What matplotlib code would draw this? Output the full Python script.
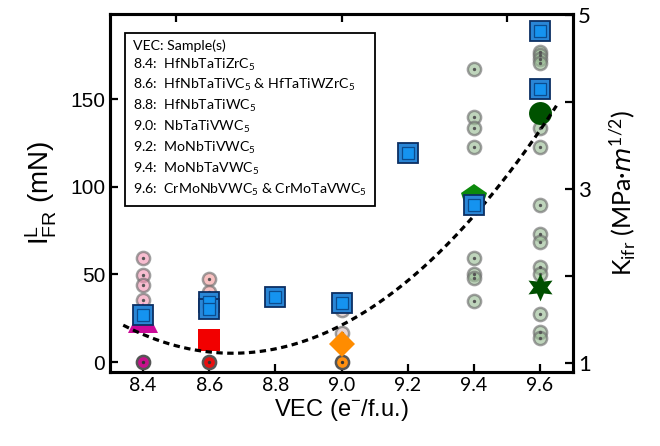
import numpy as np
import matplotlib
matplotlib.use("Agg")
import matplotlib.pyplot as plt

# ---------------- data ----------------
# individual indentation loads (mN), small circles
x84, ind_84 = 8.4, [59.5, 49.6, 43.9, 35.4]
x86, ind_86 = 8.6, [47.3, 40.0]
x90, ind_90 = 9.0, [29.7, 16.7]
x94, ind_94 = 9.4, [167.0, 140.0, 133.7, 122.8, 59.5, 50.0, 48.0, 35.0]
x96, ind_96 = 9.6, [177.0, 175.0, 173.0, 170.6, 133.7, 122.8, 89.6, 72.8,
                    68.6, 54.0, 50.0, 27.4, 17.3, 13.5]
zero_vec = [8.4, 8.6, 9.0]
zero_val = [0.0, 0.0, 0.0]
zero_cols = ['#c8108c', '#e81010', '#ff9010']

# average markers
avg_vec = [8.4, 8.6, 9.0, 9.4, 9.6, 9.6]
avg_val = [25.0, 12.4, 10.3, 94.0, 142.0, 43.0]
avg_mark = ['^', 's', 'D', 'p', 'o', (6, 1, 0)]
avg_col = ['#cc0a99', '#f20000', '#ff8c00', '#0c8a0c', '#005200', '#004f00']
avg_size = [21, 16.5, 13, 19, 16.5, 20]

# fracture toughness K_ifr (MPa m^1/2), blue squares
k_vec = [8.4, 8.6, 8.6, 8.8, 9.0, 9.2, 9.4, 9.6, 9.6]
k_val = [1.55, 1.70, 1.62, 1.76, 1.69, 3.41, 2.82, 4.82, 4.15]

# quadratic trend line: a*(x-x0)^2 + c
fit_a, fit_x0, fit_c = 147.0, 8.67, 5.0
fit_range = (8.34, 9.65)

xticks = [8.4, 8.6, 8.8, 9.0, 9.2, 9.4, 9.6]
yticks = [0, 50, 100, 150]
k_ticks = [1, 2, 3, 4, 5]
k_labels = ['1', '', '3', '', '5']

legend_lines = [
    "VEC: Sample(s)",
    "8.4:  HfNbTaTiZrC$_5$",
    "8.6:  HfNbTaTiVC$_5$ & HfTaTiWZrC$_5$",
    "8.8:  HfNbTaTiWC$_5$",
    "9.0:  NbTaTiVWC$_5$",
    "9.2:  MoNbTiVWC$_5$",
    "9.4:  MoNbTaVWC$_5$",
    "9.6:  CrMoNbVWC$_5$ & CrMoTaVWC$_5$",
]

# ---------------- figure ----------------
plt.rcParams['mathtext.default'] = 'regular'
fig = plt.figure(figsize=(6.6, 4.46), dpi=100)
ax = fig.add_axes([110/660, 1-372/446, (573-110)/660, (372-14)/446])

def circles(x, vals, face):
    xs = [x]*len(vals)
    ax.plot(xs, vals, 'o', ms=9.5, mfc=face, mec='#6e6e6e', mew=1.8,
            alpha=0.65, ls='none', zorder=2)
    ax.plot(xs, vals, 'o', ms=1.4, color='#555555', ls='none', zorder=2.1)

circles(x84, ind_84, '#f49ab8')
circles(x86, ind_86, '#f5a0a0')
circles(x90, ind_90, '#d8c0c0')
circles(x94, ind_94, '#9dbf98')
circles(x96, ind_96, '#9dbf98')

for xv, yv, c in zip(zero_vec, zero_val, zero_cols):
    ax.plot([xv], [yv], 'o', ms=9.5, mfc=c, mec='#555555', mew=1.8, zorder=2)
    ax.plot([xv], [yv], 'o', ms=1.4, color='#333333', zorder=2.1)

for xv, yv, m, c, s in zip(avg_vec, avg_val, avg_mark, avg_col, avg_size):
    ax.plot([xv], [yv], marker=m, ms=s, mfc=c, mec=c, mew=0, ls='none', zorder=3)

xf = np.linspace(fit_range[0], fit_range[1], 200)
yf = fit_a*(xf-fit_x0)**2 + fit_c
ax.plot(xf, yf, color='black', lw=2.3, ls=(0, (2.0, 1.4)), zorder=4)

ax.set_xlim(8.3, 9.7)
ax.set_ylim(-5.7, 198.5)
ax.set_xticks(xticks)
ax.set_xticklabels([f"{v:.1f}" for v in xticks], family='Lato', fontsize=14)
ax.set_yticks(yticks)
ax.set_yticklabels([str(v) for v in yticks], family='Liberation Sans', fontsize=15)
ax.tick_params(direction='in', length=6, width=1.6)
for sp in ax.spines.values():
    sp.set_linewidth(2.2)

ax.set_xlabel("VEC (e$^{-}$/f.u.)", family='Liberation Sans', fontsize=17, labelpad=2)
ax.set_ylabel("I$_{FR}^{L}$ (mN)", family='Liberation Sans', fontsize=20, labelpad=8)

sec = ax.secondary_xaxis('top')
sec.set_xticks([8.5, 9.0, 9.5])
sec.set_xticklabels([])
sec.tick_params(direction='in', length=6, width=1.6)

ax2 = ax.twinx()
ax2.set_ylim(0.897, 5.01)
ax2.plot(k_vec, k_val, 's', ms=14.5, mfc='#2a86d6', mec='#0c2f63', mew=1.3, ls='none', zorder=5)
ax2.plot(k_vec, k_val, 's', ms=8.5, mfc='#1593f0', mec='#0b4c8f', mew=0.9, ls='none', zorder=6)
ax2.set_yticks(k_ticks)
ax2.set_yticklabels(k_labels, family='Lato', fontsize=16)
ax2.tick_params(direction='in', length=6, width=1.6)
for sp in ax2.spines.values():
    sp.set_linewidth(2.2)
ax2.set_ylabel("K$_{ifr}$ (MPa·$\\mathit{m}^{1/2}$)", family='Lato', fontsize=18,
               labelpad=12)

ax.text(0.05, 0.93, "\n".join(legend_lines), transform=ax.transAxes,
        family='Lato', fontsize=10.2, va='top', ha='left', linespacing=1.4,
        bbox=dict(boxstyle='square,pad=0.55', fc='white', ec='black', lw=1.3),
        zorder=10)

fig.savefig("out.png", dpi=100)
